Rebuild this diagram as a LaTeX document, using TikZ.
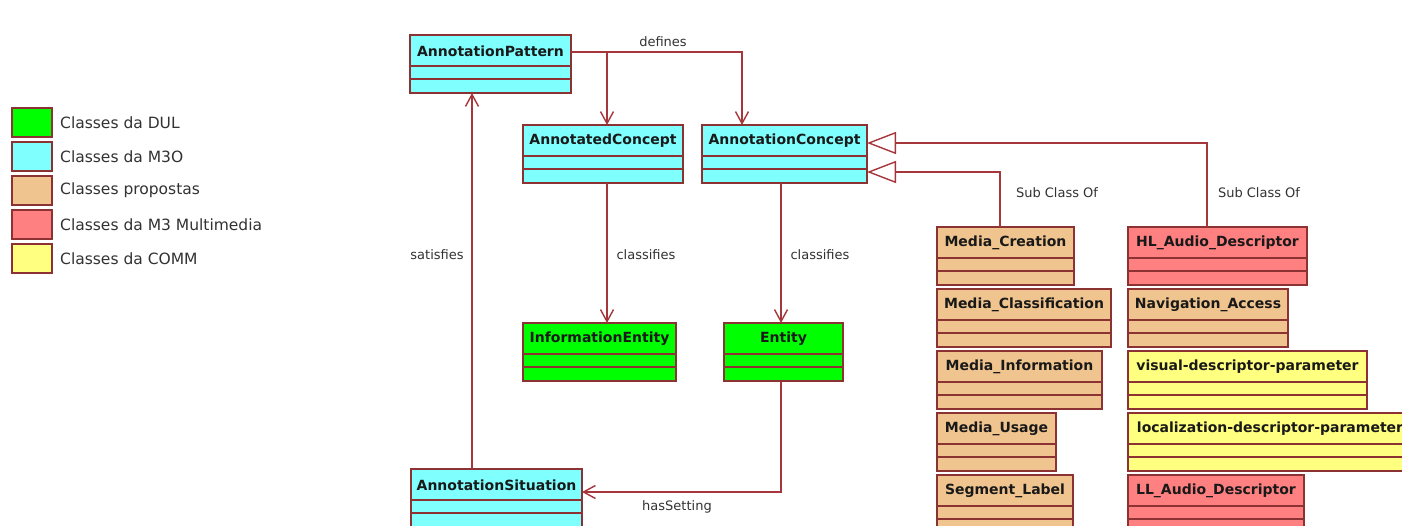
\documentclass[tikz,border=0pt]{standalone}
\usepackage{fontspec}
\setmainfont{DejaVu Sans}
\usetikzlibrary{arrows.meta,calc}
\definecolor{bordc}{RGB}{140,50,50}
\definecolor{connc}{RGB}{165,55,60}
\definecolor{cfill}{RGB}{128,255,255}
\definecolor{gfill}{RGB}{0,255,0}
\definecolor{ofill}{RGB}{240,196,142}
\definecolor{rfill}{RGB}{255,128,128}
\definecolor{yfill}{RGB}{255,255,128}
\definecolor{txtc}{RGB}{25,25,25}
\definecolor{lblc}{RGB}{50,50,50}
\tikzset{
 clsbox/.style={draw=bordc, line width=1.6pt, inner sep=0pt, outer sep=0pt, minimum height=58pt, anchor=north west},
 clsline/.style={draw=bordc, line width=1.6pt},
 clstitle/.style={font=\fontsize{14}{16}\selectfont\bfseries, text=txtc, inner sep=0pt},
 conn/.style={draw=connc, line width=1.4pt},
 assoc/.style={conn, -{Straight Barb[length=12pt,width=13pt]}},
 gen/.style={conn, -{Triangle[length=29pt,width=22pt,fill=white]}},
 lbl/.style={font=\fontsize{13}{15}\selectfont, text=lblc, inner sep=0pt},
 legbox/.style={draw=bordc, line width=1.6pt, minimum width=40pt, minimum height=29pt, inner sep=0pt},
 legtxt/.style={font=\fontsize{15.5}{18}\selectfont, text=lblc, anchor=west, inner sep=0pt},
}
\newcommand\umlcls[6]{%
 \node[clsbox, fill=#5, minimum width=#4pt] (#1) at (#2,#3) {};
 \draw[clsline] ([yshift=-31pt]#1.north west) -- ([yshift=-31pt]#1.north east);
 \draw[clsline] ([yshift=-44pt]#1.north west) -- ([yshift=-44pt]#1.north east);
 \node[clstitle] (#1-t) at ([yshift=-16pt]#1.north) {#6};
}
\begin{document}
\begin{tikzpicture}[x=1pt,y=-1pt]
\useasboundingbox (0,0) rectangle (1402,526);
\fill[white] (0,0) rectangle (1402,526);
\clip (0,0) rectangle (1402,526);

% legend
\node[legbox, fill=gfill] (l1) at (32,122.5) {};
\node[legtxt] (l1t) at (60,122.5) {Classes da DUL};
\node[legbox, fill=cfill] (l2) at (32,156.5) {};
\node[legtxt] (l2t) at (60,156.5) {Classes da M3O};
\node[legbox, fill=ofill] (l3) at (32,190.5) {};
\node[legtxt] (l3t) at (60,190.5) {Classes propostas};
\node[legbox, fill=rfill] (l4) at (32,224.5) {};
\node[legtxt] (l4t) at (60,224.5) {Classes da M3 Multimedia};
\node[legbox, fill=yfill] (l5) at (32,258.5) {};
\node[legtxt] (l5t) at (60,258.5) {Classes da COMM};

% classes
\umlcls{ap}{410}{35}{161}{cfill}{AnnotationPattern}
\umlcls{adc}{523}{125}{160}{cfill}{AnnotatedConcept}
\umlcls{acn}{702}{125}{165}{cfill}{AnnotationConcept}
\umlcls{ie}{523}{323}{153}{gfill}{InformationEntity}
\umlcls{ent}{724}{323}{119}{gfill}{Entity}
\umlcls{as}{411}{469}{171}{cfill}{AnnotationSituation}
\umlcls{mc}{937}{227}{137}{ofill}{Media\_Creation}
\umlcls{mcl}{937}{289}{174}{ofill}{Media\_Classification}
\umlcls{mi}{937}{351}{165}{ofill}{Media\_Information}
\umlcls{mu}{937}{413}{119}{ofill}{Media\_Usage}
\umlcls{sl}{937}{475}{136}{ofill}{Segment\_Label}
\umlcls{hl}{1128}{227}{179}{rfill}{HL\_Audio\_Descriptor}
\umlcls{na}{1128}{289}{160}{ofill}{Navigation\_Access}
\umlcls{vdp}{1128}{351}{239}{yfill}{visual-descriptor-parameter}
\umlcls{ldp}{1128}{413}{284}{yfill}{localization-descriptor-parameter}
\umlcls{ll}{1128}{475}{176}{rfill}{LL\_Audio\_Descriptor}

% connectors
\coordinate (apd) at ([yshift=-17pt]ap.north east);
\coordinate (adcin) at ([xshift=84pt]adc.north west);
\draw[assoc] (apd) -| ([xshift=40pt]acn.north west);
\draw[assoc] (apd -| adcin) -- (adcin);
\draw[assoc] ([xshift=61pt]as.north west) -- ([xshift=62pt]ap.south west);
\draw[assoc] ([xshift=84pt]adc.south west) -- ([xshift=84pt]ie.north west);
\draw[assoc] ([xshift=79pt]acn.south west) -- ([xshift=57pt]ent.north west);
\draw[assoc] ([xshift=57pt]ent.south west) |- ([yshift=-23pt]as.north east);
\draw[gen] ([xshift=79pt]hl.north west) |- ([yshift=-18pt]acn.north east);
\draw[gen] ([xshift=63pt]mc.north west) |- ([yshift=-47pt]acn.north east);

% labels
\node[lbl] (defl) at (663,42) {defines};
\node[lbl] (satl) at (437,255) {satisfies};
\node[lbl] (cl1) at (646,255) {classifies};
\node[lbl] (cl2) at (820,255) {classifies};
\node[lbl] (sc1) at (1057,193) {Sub Class Of};
\node[lbl] (sc2) at (1259,193) {Sub Class Of};
\node[lbl] (hsl) at (677,507) {hasSetting};
\end{tikzpicture}
\end{document}
